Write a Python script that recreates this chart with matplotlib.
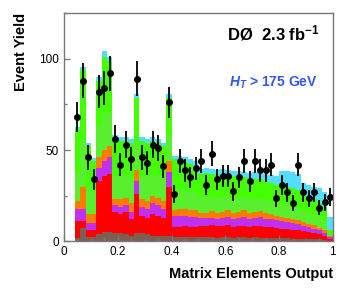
import matplotlib
matplotlib.use("Agg")
import matplotlib.pyplot as plt
import numpy as np
from matplotlib.ticker import MultipleLocator, FuncFormatter

plt.rcParams["font.family"] = ["Liberation Sans", "DejaVu Sans"]
plt.rcParams["mathtext.fontset"] = "custom"
plt.rcParams["mathtext.rm"] = "Liberation Sans:bold"
plt.rcParams["mathtext.it"] = "Liberation Sans:italic:bold"
plt.rcParams["mathtext.bf"] = "Liberation Sans:bold"
plt.rcParams["mathtext.default"] = "rm"

# bins of the matrix-element discriminant: 0.04 .. 1.00, width 0.02
bin_lo = 0.04
bin_w = 0.02
n_bins = 48

# per-bin yields, bottom of stack first
multijet = [2, 7.5, 2.5, 2.5, 4, 5, 5, 4.5, 4.5, 4, 3, 4.5, 4.5, 4, 3, 3,
            3, 3, 2.5, 2.5, 2.5, 2.5, 2.5, 2.2, 2.2, 2.4, 2, 2.2, 2.2, 2, 2.2, 2.2,
            2, 2.2, 2, 2, 2, 2, 1.8, 1.8, 1.6, 1.6, 1.5, 1.4, 1.3, 1.2, 1, 0.5]
ttbar = [9, 3.5, 3.5, 3.5, 29, 31, 32, 11.5, 10.5, 12, 9, 21.5, 9.5, 9, 12, 11,
         10, 27, 5.5, 5.5, 5.7, 5.5, 5.5, 6.2, 6.4, 6.4, 6.2, 6.3, 6.6, 6, 6.3, 6.5,
         6, 6.3, 6.3, 6, 5.8, 5.5, 5.2, 5, 4.9, 4.6, 4, 3.6, 3.2, 2.6, 2, 1]
zjets = [7, 7, 4, 4, 7, 8, 9, 4, 4, 4, 4, 7, 5, 5, 6, 6,
         5, 8, 6, 6, 5.8, 5.5, 5.5, 4.2, 4.2, 4.2, 4.3, 4.5, 4.7, 4.5, 4.5, 4.8,
         4.5, 4.5, 4.9, 4.5, 4.2, 4, 4, 3.7, 3.5, 3.3, 3, 2.8, 2.5, 2.2, 1.8, 1]
diboson = [4, 12, 5, 5, 6, 6, 6, 3, 4, 4, 5, 6, 4, 4, 4, 4,
           4, 6, 3, 3.5, 3.5, 3.5, 3.5, 3.1, 3, 3.5, 3, 3, 3.5, 3, 3, 3.5,
           3, 3, 3.3, 3, 3, 2.5, 2.5, 2.5, 2.5, 2, 2, 2, 1.8, 1.5, 1.2, 0.5]
wbb = [15.5, 25.5, 15, 11.5, 17, 20.5, 18.5, 13, 13, 12.5, 13, 16, 13, 13, 12, 12,
       12, 14, 11, 10.5, 10.5, 10, 10, 8.5, 8.7, 8.2, 8.4, 8.4, 7.8, 8.2, 7.8, 7.2,
       7.6, 7.2, 7, 7, 6.8, 6.8, 6.8, 6.8, 6.6, 6.6, 6, 5.9, 5.7, 5.4, 5.2, 1.2]
wlp = [23.5, 38.5, 22, 17.5, 25, 30.5, 27.5, 20, 19, 18.5, 20, 23.5, 19, 19, 18, 18,
       18, 20.5, 17, 16, 15.5, 15.5, 14.5, 12.8, 13, 12.3, 12.6, 12.6, 11.7, 12.3, 11.7, 10.8,
       11.4, 10.8, 10.5, 10.5, 10.2, 10.2, 10.2, 10.2, 9.9, 9.9, 9, 8.8, 8.5, 8.1, 7.8, 1.8]
signal = [1.5, 1.5, 2, 1.5, 2, 3, 3, 2, 2, 2, 2, 2, 2, 2, 2, 2,
          2, 2, 2, 2.5, 2.5, 2.5, 2.5, 2.5, 2.5, 2.5, 2.5, 2.5, 2.5, 2.5, 3, 3,
          3, 4, 3.5, 4, 4.5, 5, 8, 8.5, 9, 9, 6.5, 6.5, 7, 8, 8, 7.5]

data = [68, 88, 46, 34, 82, 84, 92, 56, 42, 53, 45, 89, 46, 43, 53, 51,
        41, 76, 26, 44, 39, 35, 40, 44, 31, 48, 34, 36, 36, 27.5, 35, 44,
        33, 44, 39, 39, 42, 23.5, 31, 27, 21, 42, 27, 23.5, 27, 18.5, 21.5, 24.5]

components = [
    (multijet, "#7d5f52"),
    (ttbar, "#ff0000"),
    (zjets, "#c030f0"),
    (diboson, "#ff7a00"),
    (wbb, "#5aef2e"),
    (wlp, "#44ff00"),
    (signal, "#55ddff"),
]

edges = bin_lo + bin_w * np.arange(n_bins + 1)
centers = 0.5 * (edges[:-1] + edges[1:])

fig = plt.figure(figsize=(3.46, 2.93), dpi=100)
ax = fig.add_axes([0.185, 0.176, 0.777, 0.780])

bottom = np.zeros(n_bins)
for vals, col in components:
    top = bottom + np.asarray(vals, dtype=float)
    ax.stairs(top, edges, baseline=bottom, fill=True, color=col, lw=0)
    bottom = top

d = np.asarray(data, dtype=float)
ax.errorbar(centers, d, yerr=np.sqrt(d), fmt="o", color="black",
            ms=4, elinewidth=1.3, capsize=0)

ax.set_xlim(0, 1)
ax.set_ylim(0, 125)
ax.xaxis.set_major_locator(MultipleLocator(0.2))
ax.xaxis.set_minor_locator(MultipleLocator(0.05))
ax.yaxis.set_major_locator(MultipleLocator(50))
ax.yaxis.set_minor_locator(MultipleLocator(25))
ax.xaxis.set_major_formatter(FuncFormatter(lambda v, p: f"{v:g}"))
ax.tick_params(which="both", direction="in", color="#777777",
               labelsize=8.5, top=False, right=False)
ax.tick_params(which="major", length=4.5, width=0.9)
ax.tick_params(which="minor", length=2.5, width=0.9)
for s in ax.spines.values():
    s.set_color("#777777")
    s.set_linewidth(1.0)

ax.set_xlabel("Matrix Elements Output", fontsize=10.5, fontweight="bold",
              loc="right", labelpad=6)
ax.set_ylabel("Event Yield", fontsize=10.5, fontweight="bold",
              loc="top", labelpad=8)

ax.text(0.952, 0.912, "DØ  2.3 fb$^{-1}$", transform=ax.transAxes,
        ha="right", va="center", fontsize=12, fontweight="bold")
ax.text(0.944, 0.693, "$\\mathit{H_T}$ > 175 GeV", transform=ax.transAxes,
        ha="right", va="center", fontsize=10, fontweight="bold",
        color="#3658f0")

fig.savefig("out.png", dpi=100)
